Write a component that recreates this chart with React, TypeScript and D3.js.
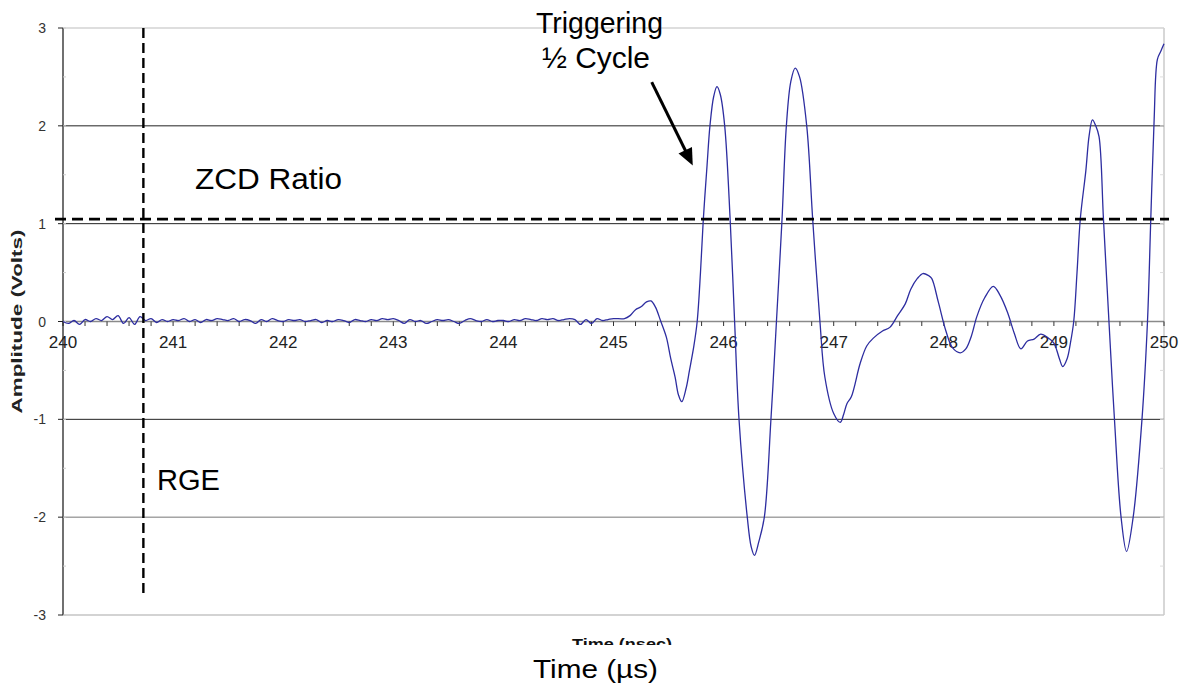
import React from "react";
import * as d3 from "d3";

// ---- data ----
const noiseStart = 240.0;
const noiseStep = 0.05;
const noiseValues = [
  0.0, -0.02, 0.01, -0.03, 0.02, 0.0, 0.03, 0.01, 0.05, 0.02, 0.06, -0.02, 0.04, -0.03, 0.05, 0.01, 0.03, -0.01, 0.02, 0.0,
  0.02, 0.01, 0.03, 0.0, 0.02, -0.01, 0.02, 0.01, 0.03, 0.02, 0.01, 0.03, 0.0, 0.02, 0.01, -0.02, 0.02, 0.0, 0.03, 0.01,
  0.0, 0.02, 0.01, 0.02, 0.0, 0.01, 0.02, -0.01, 0.01, 0.0, 0.02, 0.01, -0.01, 0.02, 0.01, 0.0, 0.02, 0.01, 0.03, 0.02,
  0.03, 0.01, -0.02, 0.02, 0.0, 0.01, -0.02, 0.0, 0.02, 0.01, 0.02, 0.0, -0.02, 0.01, 0.03, 0.01, 0.0, 0.02, 0.0, 0.01,
  0.01, 0.0, 0.02, 0.01, 0.03, 0.02, 0.01, 0.03, 0.02, 0.03, 0.01, 0.02, 0.03, 0.02, -0.03, 0.02, -0.02, 0.03, 0.01, 0.02,
  0.03,
];
const signalPoints: [number, number][] = [
  [245.1, 0.03], [245.15, 0.06], [245.2, 0.12], [245.25, 0.15], [245.3, 0.2], [245.34, 0.21], [245.38, 0.15],
  [245.43, 0.0], [245.48, -0.16], [245.52, -0.38], [245.56, -0.57], [245.59, -0.75], [245.62, -0.82],
  [245.66, -0.68], [245.69, -0.5], [245.73, -0.25], [245.76, 0.0], [245.79, 0.5], [245.815, 1.03],
  [245.85, 1.6], [245.876, 2.0], [245.91, 2.3], [245.94, 2.4], [245.97, 2.32], [246.01, 2.0], [246.06, 1.03],
  [246.1, 0.0], [246.14, -1.0], [246.215, -2.0], [246.25, -2.3], [246.28, -2.39], [246.32, -2.25],
  [246.37, -2.0], [246.43, -1.0], [246.48, 0.0], [246.53, 1.03], [246.57, 2.0], [246.61, 2.45], [246.65, 2.59],
  [246.69, 2.5], [246.755, 2.0], [246.81, 1.03], [246.875, 0.0], [246.92, -0.57], [247.0, -0.94], [247.06, -1.03],
  [247.09, -0.95], [247.12, -0.84], [247.16, -0.77], [247.24, -0.43], [247.3, -0.25], [247.36, -0.17],
  [247.44, -0.1], [247.51, -0.06], [247.58, 0.06], [247.65, 0.18], [247.7, 0.33], [247.76, 0.44], [247.81, 0.49],
  [247.86, 0.47], [247.89, 0.44], [247.95, 0.2], [248.02, -0.1], [248.08, -0.27], [248.15, -0.32], [248.2, -0.28],
  [248.25, -0.15], [248.3, 0.05], [248.37, 0.24], [248.45, 0.36], [248.51, 0.27], [248.58, 0.09], [248.64, -0.12],
  [248.7, -0.28], [248.76, -0.2], [248.82, -0.18], [248.88, -0.13], [248.95, -0.17], [249.0, -0.22], [249.05, -0.38],
  [249.08, -0.46], [249.12, -0.38], [249.15, -0.22], [249.18, 0.0], [249.21, 0.5], [249.24, 1.05], [249.29, 1.54],
  [249.32, 1.9], [249.35, 2.06], [249.38, 2.0], [249.41, 1.89], [249.45, 1.05], [249.5, 0.0], [249.55, -1.0],
  [249.61, -2.0], [249.66, -2.35], [249.72, -2.0], [249.8, -1.0], [249.85, 0.0], [249.88, 1.05], [249.91, 2.05],
  [249.94, 2.68], [249.97, 2.76], [250.0, 2.84],
];
const xTicks = [240, 241, 242, 243, 244, 245, 246, 247, 248, 249, 250];
const yTicks = [3, 2, 1, 0, -1, -2, -3];
const gridValues = [2, 1, -1, -2];
const zcdLevel = 1.046;
const rgeTime = 240.73;

// ---- layout ----
const W = 1185;
const H = 686;
const x = d3.scaleLinear().domain([240, 250]).range([63, 1164]);
const y = d3.scaleLinear().domain([-3, 3]).range([615, 28]);
const FONT = "Arial, 'Liberation Sans', sans-serif";

export default function App() {
  const noisePts: [number, number][] = noiseValues.map((v, i) => [noiseStart + i * noiseStep, v]);
  const all = [...noisePts, ...signalPoints];
  const line = d3
    .line<[number, number]>()
    .x((d) => x(d[0]))
    .y((d) => y(d[1]))
    .curve(d3.curveCatmullRom.alpha(0.5));
  const minorX = d3.range(240, 250.0001, 0.2);
  const minorY = d3.range(-3, 3.0001, 0.5);

  // arrow (data coordinates)
  const a0 = [x(245.347), y(2.446)];
  const a1 = [x(245.72), y(1.595)];
  const dx = a1[0] - a0[0];
  const dy = a1[1] - a0[1];
  const len = Math.hypot(dx, dy);
  const ux = dx / len;
  const uy = dy / len;
  const hl = 17;
  const hw = 7.5;
  const base = [a1[0] - ux * hl, a1[1] - uy * hl];
  const head = `M${a1[0]},${a1[1]} L${base[0] - uy * hw},${base[1] + ux * hw} L${base[0] + uy * hw},${base[1] - ux * hw} Z`;

  return (
    <svg width={W} height={H} style={{ position: "absolute", left: 0, top: 0, background: "#fff" }} fontFamily={FONT}>
      <defs>
        <clipPath id="cutTitle">
          <rect x={0} y={600} width={W} height={45} />
        </clipPath>
      </defs>
      {/* borders */}
      <line x1={x(240)} x2={x(250)} y1={y(3)} y2={y(3)} stroke="#bdbdbd" strokeWidth={1.2} />
      <line x1={x(250)} x2={x(250)} y1={y(3)} y2={y(-3)} stroke="#bdbdbd" strokeWidth={1.2} />
      <line x1={x(240)} x2={x(250)} y1={y(-3)} y2={y(-3)} stroke="#a8a8a8" strokeWidth={1.2} />
      {/* grid */}
      {gridValues.map((g) => (
        <line key={g} x1={x(240)} x2={x(250)} y1={y(g)} y2={y(g)} stroke={g === -2 ? "#777" : "#222"} strokeWidth={1} />
      ))}
      {/* right border minor ticks */}
      {minorY.map((v, i) => (
        <line key={"ry" + i} x1={x(250) - 4} x2={x(250)} y1={y(v)} y2={y(v)} stroke="#ddd" strokeWidth={1} />
      ))}
      {/* zero axis */}
      <line x1={x(240)} x2={x(250)} y1={y(0)} y2={y(0)} stroke="#8a8a8a" strokeWidth={1.5} />
      {minorX.map((t, i) => (
        <line key={"mx" + i} x1={x(t)} x2={x(t)} y1={y(0)} y2={y(0) + 4.5} stroke="#333" strokeWidth={1} />
      ))}
      {/* left axis */}
      <line x1={x(240)} x2={x(240)} y1={y(3)} y2={y(-3)} stroke="#111" strokeWidth={1.2} />
      {minorY.map((v, i) => (
        <line key={"ly" + i} x1={x(240)} x2={x(240) + 3} y1={y(v)} y2={y(v)} stroke="#ccc" strokeWidth={1} />
      ))}
      {yTicks.map((v) => (
        <g key={"yt" + v}>
          <line x1={x(240) - 5} x2={x(240)} y1={y(v)} y2={y(v)} stroke="#222" strokeWidth={1} />
          <text x={46} y={y(v)} dy="0.36em" textAnchor="end" fontSize={14} fill="#333">
            {String(v)}
          </text>
        </g>
      ))}
      {xTicks.map((t) => (
        <text key={"xt" + t} x={x(t)} y={348} textAnchor="middle" fontSize={17} fill="#222">
          {String(t)}
        </text>
      ))}
      {/* axis title */}
      <text
        transform={`translate(22,${y(0)}) rotate(-90)`}
        textAnchor="middle"
        fontSize={14}
        fontWeight="bold"
        fill="#222"
        textLength={184}
        lengthAdjust="spacingAndGlyphs"
      >
        Amplitude (Volts)
      </text>
      {/* waveform */}
      <path d={line(all) || ""} fill="none" stroke="#2d2da0" strokeWidth={1.3} strokeLinejoin="round" />
      {/* ZCD dashed line */}
      <line x1={55} x2={1169} y1={y(zcdLevel)} y2={y(zcdLevel)} stroke="#000" strokeWidth={2.6} strokeDasharray="11,6" />
      {/* RGE dashed line */}
      <line x1={x(rgeTime)} x2={x(rgeTime)} y1={y(3)} y2={597} stroke="#000" strokeWidth={2.4} strokeDasharray="10,5" />
      {/* annotations */}
      <text x={x(241.2)} y={189} fontSize={29} fill="#000" textLength={147} lengthAdjust="spacingAndGlyphs">
        ZCD Ratio
      </text>
      <text x={157} y={490} fontSize={29} fill="#000" textLength={63} lengthAdjust="spacingAndGlyphs">
        RGE
      </text>
      <text x={536} y={33} fontSize={29} fill="#000" textLength={127} lengthAdjust="spacingAndGlyphs">
        Triggering
      </text>
      <text x={542} y={68} fontSize={29} fill="#000" textLength={108} lengthAdjust="spacingAndGlyphs">
        ½ Cycle
      </text>
      <line x1={a0[0]} y1={a0[1]} x2={base[0] + ux * 2} y2={base[1] + uy * 2} stroke="#000" strokeWidth={3} />
      <path d={head} fill="#000" />
      {/* clipped original axis title */}
      <g clipPath="url(#cutTitle)">
        <text x={622} y={649} textAnchor="middle" fontSize={15} fontWeight="bold" fill="#111" textLength={100} lengthAdjust="spacingAndGlyphs">
          Time (nsec)
        </text>
      </g>
      <text x={533} y={678} fontSize={25} fill="#000" textLength={125} lengthAdjust="spacingAndGlyphs">
        Time (µs)
      </text>
    </svg>
  );
}
